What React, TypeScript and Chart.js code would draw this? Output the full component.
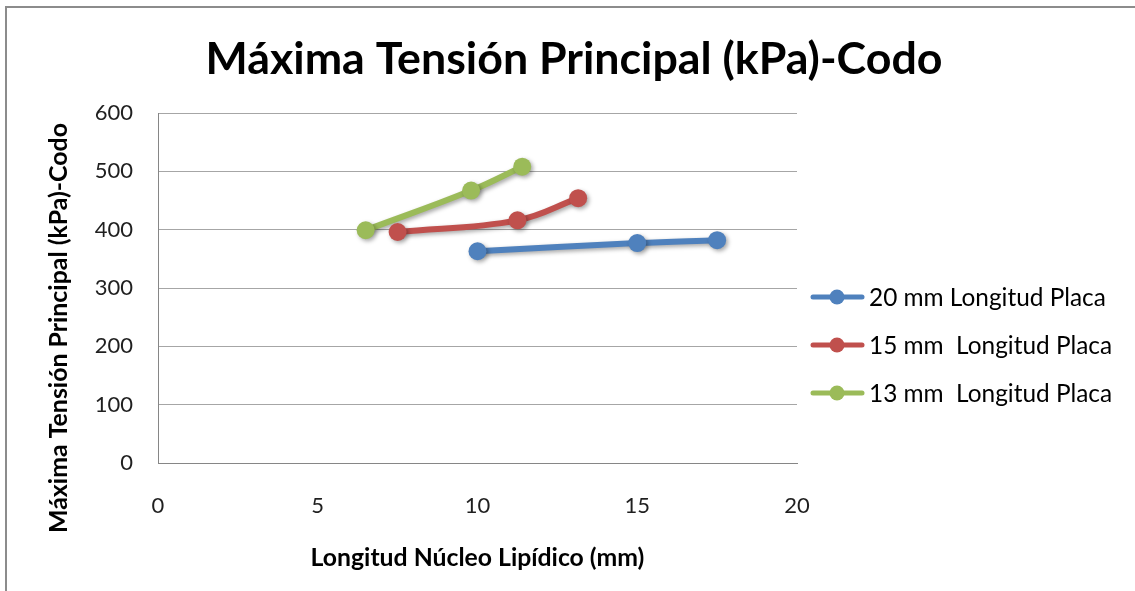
import React, { useEffect, useRef } from "react";
import { Chart, registerables } from "chart.js";

Chart.register(...registerables);

const chartTitle = "Máxima Tensión Principal (kPa)-Codo";
const yAxisTitle = "Máxima Tensión Principal (kPa)-Codo";
const xAxisTitle = "Longitud Núcleo Lipídico (mm)";

const seriesLabels = [
  "20 mm Longitud Placa",
  "15 mm  Longitud Placa",
  "13 mm  Longitud Placa",
];
const seriesColors = ["#4F81BD", "#C0504D", "#9BBB59"];

const xBlue = [10, 15, 17.5];
const yBlue = [363, 377, 382];
const xRed = [7.5, 11.25, 13.15];
const yRed = [396, 416, 454];
const xGreen = [6.5, 9.8, 11.4];
const yGreen = [399, 467, 508];

const xTicks = [0, 5, 10, 15, 20];
const yTicks = [0, 100, 200, 300, 400, 500, 600];

const FONT = "Lato, 'Open Sans', sans-serif";

function fitSize(ctx: CanvasRenderingContext2D, text: string, width: number, weight: string) {
  ctx.font = `${weight} 100px ${FONT}`;
  const w = ctx.measureText(text).width;
  return (100 * width) / w;
}

const decorPlugin = {
  id: "decor",
  beforeDraw(chart: any) {
    const ctx = chart.ctx as CanvasRenderingContext2D;
    ctx.save();
    ctx.fillStyle = "#ffffff";
    ctx.fillRect(0, 0, chart.width, chart.height);
    ctx.fillStyle = "#8c8c8c";
    ctx.fillRect(5, 6, chart.width - 5, 2);
    ctx.fillRect(5, 6, 2, chart.height - 6);
    ctx.restore();
  },
  beforeDatasetsDraw(chart: any) {
    const ctx = chart.ctx as CanvasRenderingContext2D;
    ctx.save();
    ctx.shadowColor = "rgba(0,0,0,0.35)";
    ctx.shadowBlur = 4;
    ctx.shadowOffsetX = 2;
    ctx.shadowOffsetY = 2;
  },
  afterDatasetsDraw(chart: any) {
    chart.ctx.restore();
  },
  afterDraw(chart: any) {
    const ctx = chart.ctx as CanvasRenderingContext2D;
    const area = chart.chartArea;
    ctx.save();
    ctx.fillStyle = "#000000";
    ctx.textAlign = "center";
    ctx.textBaseline = "middle";

    // chart title
    const ts = fitSize(ctx, chartTitle, 737, "bold");
    ctx.font = `bold ${ts}px ${FONT}`;
    ctx.fillText(chartTitle, 574, 60);

    // x axis title
    const xs = fitSize(ctx, xAxisTitle, 334, "bold");
    ctx.font = `bold ${xs}px ${FONT}`;
    ctx.fillText(xAxisTitle, (area.left + area.right) / 2, 558);

    // y axis title
    const ys = fitSize(ctx, yAxisTitle, 410, "bold");
    ctx.save();
    ctx.translate(59, 328);
    ctx.rotate(-Math.PI / 2);
    ctx.font = `bold ${ys}px ${FONT}`;
    ctx.fillText(yAxisTitle, 0, 0);
    ctx.restore();

    // legend
    const ls = fitSize(ctx, seriesLabels[0], 237, "normal");
    ctx.font = `normal ${ls}px ${FONT}`;
    ctx.textAlign = "left";
    const rows = [297, 345, 393];
    chart.data.datasets.forEach((ds: any, i: number) => {
      const y = rows[i];
      ctx.strokeStyle = ds.borderColor;
      ctx.lineWidth = 5;
      ctx.lineCap = "round";
      ctx.beginPath();
      ctx.moveTo(813, y);
      ctx.lineTo(862, y);
      ctx.stroke();
      ctx.fillStyle = ds.borderColor;
      ctx.beginPath();
      ctx.arc(837, y, 7.5, 0, Math.PI * 2);
      ctx.fill();
      ctx.fillStyle = "#000000";
      ctx.fillText(ds.label, 869, y + 1);
    });
    ctx.restore();
  },
};

function toPoints(xs: number[], ys: number[]) {
  return xs.map((x, i) => ({ x, y: ys[i] }));
}

export default function App() {
  const ref = useRef<HTMLCanvasElement | null>(null);
  useEffect(() => {
    if (!ref.current) return;
    const data = [
      toPoints(xBlue, yBlue),
      toPoints(xRed, yRed),
      toPoints(xGreen, yGreen),
    ];
    const chart = new Chart(ref.current, {
      type: "line",
      data: {
        datasets: data.map((d, i) => ({
          label: seriesLabels[i],
          data: d,
          borderColor: seriesColors[i],
          backgroundColor: seriesColors[i],
          pointBackgroundColor: seriesColors[i],
          pointBorderColor: seriesColors[i],
          borderWidth: 6,
          pointRadius: 9,
          pointBorderWidth: 0,
          tension: 0.4,
          fill: false,
        })),
      },
      options: {
        animation: false,
        responsive: false,
        devicePixelRatio: 1,
        layout: { padding: { left: 0, top: 113, right: 338, bottom: 0 } },
        plugins: {
          legend: { display: false },
          title: { display: false },
          tooltip: { enabled: false },
        },
        scales: {
          x: {
            type: "linear",
            min: 0,
            max: 20,
            afterFit: (s: any) => {
              s.height = 128;
            },
            afterBuildTicks: (s: any) => {
              s.ticks = xTicks.map((v) => ({ value: v }));
            },
            grid: { display: false, drawTicks: false },
            border: { display: true, color: "#868686", width: 1 },
            ticks: {
              padding: 30,
              color: "#1f1f1f",
              font: { family: FONT, size: 22 },
              maxRotation: 0,
            },
          },
          y: {
            type: "linear",
            min: 0,
            max: 600,
            afterFit: (s: any) => {
              s.width = 158;
            },
            afterBuildTicks: (s: any) => {
              s.ticks = yTicks.map((v) => ({ value: v }));
            },
            grid: { color: "#a6a6a6", drawTicks: false, lineWidth: 1 },
            border: { display: true, color: "#868686", width: 1 },
            ticks: {
              padding: 25,
              color: "#1f1f1f",
              font: { family: FONT, size: 22 },
            },
          },
        },
      },
      plugins: [decorPlugin],
    });
    return () => chart.destroy();
  }, []);
  return (
    <div style={{ position: "absolute", left: 0, top: 0, width: 1135, height: 591 }}>
      <canvas ref={ref} width={1135} height={591} style={{ display: "block" }} />
    </div>
  );
}
